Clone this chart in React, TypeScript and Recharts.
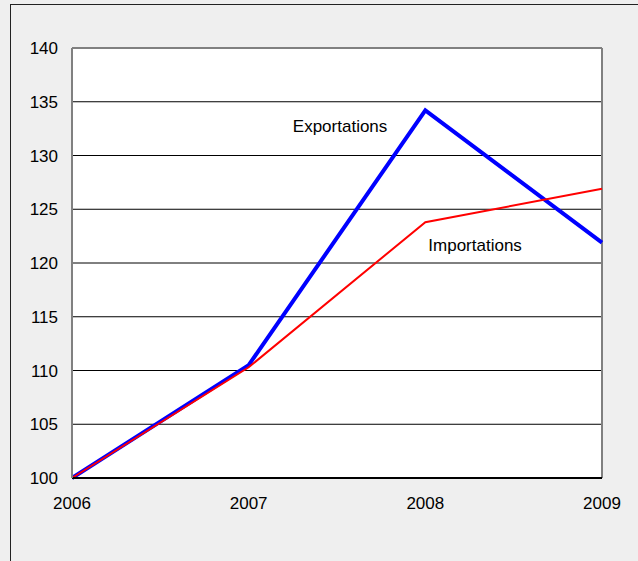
import { LineChart, Line, XAxis, YAxis, CartesianGrid, ReferenceLine } from "recharts";

const years = ["2006", "2007", "2008", "2009"];
const exportations = [100, 110.5, 134.2, 121.9];
const importations = [100, 110.3, 123.8, 126.9];
const yTicks = [100, 105, 110, 115, 120, 125, 130, 135, 140];

const data = years.map((year, i) => ({
  year,
  exp: exportations[i],
  imp: importations[i],
}));

const FONT = "Liberation Sans, Arial, sans-serif";
const FS = 17;

const expLabel = (props: any) => {
  if (props.index !== 2) return null;
  return (
    <text x={props.x - 38} y={props.y + 22} textAnchor="end" fontSize={FS} fontFamily={FONT} fill="#000">
      Exportations
    </text>
  );
};

const impLabel = (props: any) => {
  if (props.index !== 2) return null;
  return (
    <text x={props.x + 3} y={props.y + 29} textAnchor="start" fontSize={FS} fontFamily={FONT} fill="#000">
      Importations
    </text>
  );
};

export default function App() {
  return (
    <div
      style={{
        position: "absolute",
        left: 0,
        top: 0,
        width: 638,
        height: 561,
        background: "#efefef",
        overflow: "hidden",
      }}
    >
      <div
        style={{
          position: "absolute",
          left: 10,
          top: 4,
          width: 700,
          height: 700,
          border: "1.5px solid #222",
        }}
      />
      <div style={{ position: "absolute", left: 0, top: 0 }}>
        <LineChart
          width={638}
          height={561}
          data={data}
          margin={{ top: 48, right: 36, bottom: 43, left: 12 }}
        >
          <CartesianGrid vertical={false} stroke="#000" strokeWidth={1} fill="#fff" fillOpacity={1} />
          <XAxis
            dataKey="year"
            height={40}
            axisLine={{ stroke: "#000", strokeWidth: 2 }}
            tickLine={false}
            tickSize={0}
            tickMargin={19}
            interval={0}
            tick={{ fontSize: FS, fontFamily: FONT, fill: "#000" }}
          />
          <YAxis
            width={60}
            domain={[100, 140]}
            ticks={yTicks}
            interval={0}
            axisLine={{ stroke: "#808080", strokeWidth: 2 }}
            tickLine={false}
            tickSize={0}
            tickMargin={14}
            tick={{ fontSize: FS, fontFamily: FONT, fill: "#000" }}
          />
          <ReferenceLine y={140} stroke="#808080" strokeWidth={2} />
          <ReferenceLine x="2009" stroke="#808080" strokeWidth={2} />
          <Line
            dataKey="exp"
            stroke="#0000ff"
            strokeWidth={4}
            dot={false}
            isAnimationActive={false}
            label={expLabel}
          />
          <Line
            dataKey="imp"
            stroke="#ff0000"
            strokeWidth={2}
            dot={false}
            isAnimationActive={false}
            label={impLabel}
          />
        </LineChart>
      </div>
    </div>
  );
}
